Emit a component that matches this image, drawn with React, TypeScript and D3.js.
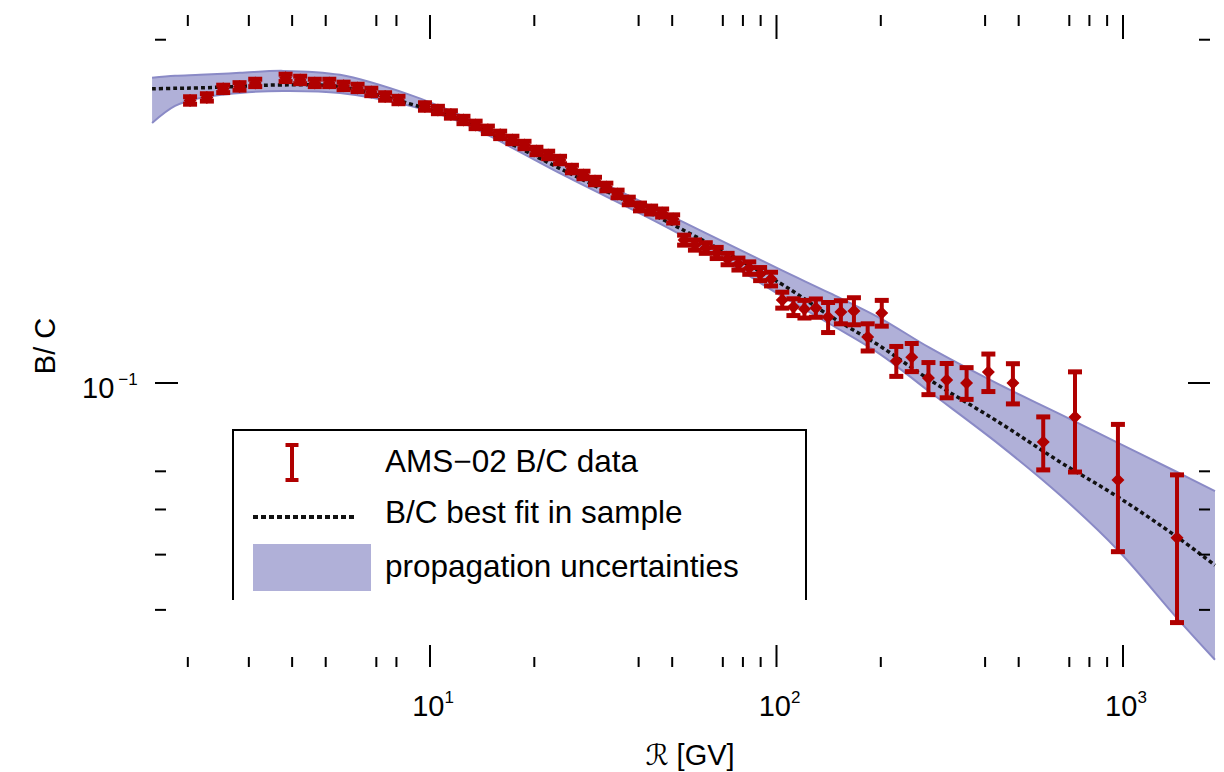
import React from 'react'
import * as d3 from 'd3'

// AMS-02 B/C data, rigidity in GV
const rigidity = [2.03, 2.27, 2.53, 2.82, 3.13, 3.83, 4.22, 4.65, 5.12, 5.63, 6.18, 6.77, 7.42, 8.11, 9.67, 10.54, 11.49, 12.49, 13.54, 14.69, 15.94, 17.29, 18.74, 20.28, 21.93, 23.73, 25.68, 27.73, 29.93, 32.28, 34.78, 37.47, 40.37, 43.47, 46.77, 50.32, 54.12, 58.16, 62.51, 67.2, 72.25, 77.65, 83.45, 89.69, 96.44, 103.9, 111.9, 120.4, 129.9, 140.9, 153.4, 167.3, 183.3, 201.3, 221.7, 245.7, 274.5, 309.9, 353.7, 408.8, 481.2, 588.6, 727, 967, 1432]
const bcRatio = [0.3130, 0.3169, 0.3280, 0.3313, 0.3360, 0.3429, 0.3401, 0.3360, 0.3360, 0.3320, 0.3293, 0.3240, 0.3181, 0.3136, 0.3055, 0.3012, 0.2958, 0.2893, 0.2836, 0.2780, 0.2724, 0.2669, 0.2615, 0.2553, 0.2512, 0.2461, 0.2373, 0.2317, 0.2261, 0.2207, 0.2146, 0.2086, 0.2036, 0.2011, 0.1987, 0.1940, 0.1781, 0.1746, 0.1725, 0.1691, 0.1650, 0.1617, 0.1591, 0.1553, 0.1522, 0.1398, 0.1359, 0.1348, 0.1354, 0.1305, 0.1332, 0.1338, 0.1204, 0.1327, 0.1093, 0.1110, 0.1020, 0.1012, 0.1000, 0.1045, 0.1000, 0.0788, 0.0872, 0.0676, 0.0535]
const bcError = [0.0047, 0.0047, 0.0049, 0.0050, 0.0050, 0.0051, 0.0051, 0.0050, 0.0050, 0.0050, 0.0049, 0.0049, 0.0048, 0.0047, 0.0046, 0.0045, 0.0044, 0.0043, 0.0043, 0.0042, 0.0041, 0.0040, 0.0039, 0.0038, 0.0038, 0.0037, 0.0036, 0.0035, 0.0034, 0.0034, 0.0033, 0.0032, 0.0032, 0.0032, 0.0032, 0.0032, 0.0036, 0.0036, 0.0037, 0.0038, 0.0038, 0.0039, 0.0040, 0.0041, 0.0042, 0.0045, 0.0046, 0.0048, 0.0050, 0.0079, 0.0062, 0.0073, 0.0066, 0.0069, 0.0066, 0.0063, 0.0066, 0.0070, 0.0064, 0.0079, 0.0081, 0.0084, 0.0174, 0.0170, 0.0155]

// best fit curve and propagation uncertainty band
const bandRigidity = [1.577, 1.837, 2.169, 2.829, 3.765, 5.5, 8.757, 12.21, 24.53, 54.43, 102.3, 142.7, 198.9, 277.3, 441.6, 658, 967.4, 1432, 1843]
const fitBC = [0.3280, 0.3287, 0.3293, 0.3313, 0.3333, 0.3307, 0.3087, 0.2893, 0.2354, 0.1848, 0.1497, 0.1311, 0.1161, 0.1012, 0.0851, 0.0727, 0.0631, 0.0537, 0.0479]
const bandUpper = [0.3429, 0.3457, 0.3471, 0.3499, 0.3527, 0.3471, 0.3201, 0.2952, 0.2412, 0.1909, 0.1582, 0.1437, 0.1300, 0.1152, 0.0992, 0.0882, 0.0785, 0.0698, 0.0646]
const bandLower = [0.2858, 0.3062, 0.3162, 0.3227, 0.3253, 0.3227, 0.3062, 0.2870, 0.2308, 0.1803, 0.1427, 0.1269, 0.1124, 0.0964, 0.0778, 0.0636, 0.0509, 0.0387, 0.0327]

// ticks
const xMajor = [10, 100, 1000]
const xMajorLabels = ['1', '2', '3']
const xMinor = [2, 3, 4, 5, 7, 8, 20, 40, 50, 70, 80, 90, 200, 400, 500, 700, 800, 900]
const yMajor = [0.1]
const yMinor = [0.04, 0.05, 0.06, 0.07, 0.4]

const legendLabels = ['AMS\u221202 B/C data', 'B/C best fit in sample', 'propagation uncertainties']

const RED = '#b00000'
const BAND = '#b0b0d8'
const BAND_EDGE = '#8a8ac6'
const FONT = '"Liberation Sans", Arial, Helvetica, sans-serif'

const frame = { left: 155, right: 1210, top: 15, bottom: 667 }

export default function App() {
  const x = d3.scaleLog().domain([1.608, 1783]).range([frame.left, frame.right])
  const y = d3.scaleLog().domain([0.03176, 0.442]).range([frame.bottom, frame.top])

  const idx = d3.range(bandRigidity.length)
  const area = d3.area<number>()
    .x(i => x(bandRigidity[i]))
    .y0(i => y(bandLower[i]))
    .y1(i => y(bandUpper[i]))
    .curve(d3.curveCatmullRom)
  const edge = (arr: number[]) => d3.line<number>()
    .x(i => x(bandRigidity[i]))
    .y(i => y(arr[i]))
    .curve(d3.curveCatmullRom)(idx) || ''

  const points = rigidity.map((r, i) => ({
    px: x(r),
    py: y(bcRatio[i]),
    top: y(bcRatio[i] + bcError[i]),
    bot: y(bcRatio[i] - bcError[i])
  }))

  return (
    <svg width={1224} height={772} style={{ position: 'absolute', left: 0, top: 0, background: '#fff' }}
      fontFamily={FONT}>
      {/* band */}
      <path d={area(idx) || ''} fill={BAND} stroke="none" />
      <path d={edge(bandUpper)} fill="none" stroke={BAND_EDGE} strokeWidth={2} />
      <path d={edge(bandLower)} fill="none" stroke={BAND_EDGE} strokeWidth={2} />

      {/* best fit */}
      <path d={edge(fitBC)} fill="none" stroke="#111" strokeWidth={3.5} strokeDasharray="4 3" />

      {/* data */}
      <g stroke={RED} fill={RED}>
        {points.map((p, i) => (
          <g key={i}>
            <line x1={p.px} x2={p.px} y1={p.top} y2={p.bot} strokeWidth={4} />
            <line x1={p.px - 7} x2={p.px + 7} y1={p.top} y2={p.top} strokeWidth={5} />
            <line x1={p.px - 7} x2={p.px + 7} y1={p.bot} y2={p.bot} strokeWidth={5} />
            <path d={`M${p.px},${p.py - 6.5}L${p.px + 6.5},${p.py}L${p.px},${p.py + 6.5}L${p.px - 6.5},${p.py}Z`} stroke="none" />
          </g>
        ))}
      </g>

      {/* ticks */}
      <g stroke="#000" strokeWidth={2}>
        {xMajor.map(v => (
          <g key={'xM' + v}>
            <line x1={x(v)} x2={x(v)} y1={frame.top} y2={frame.top + 24} />
            <line x1={x(v)} x2={x(v)} y1={frame.bottom} y2={frame.bottom - 22} />
          </g>
        ))}
        {xMinor.map(v => (
          <g key={'xm' + v}>
            <line x1={x(v)} x2={x(v)} y1={frame.top} y2={frame.top + 11} />
            <line x1={x(v)} x2={x(v)} y1={frame.bottom} y2={frame.bottom - 10} />
          </g>
        ))}
        {yMajor.map(v => (
          <g key={'yM' + v}>
            <line x1={frame.left} x2={frame.left + 23} y1={y(v)} y2={y(v)} />
            <line x1={frame.right} x2={frame.right - 22} y1={y(v)} y2={y(v)} />
          </g>
        ))}
        {yMinor.map(v => (
          <g key={'ym' + v}>
            <line x1={frame.left} x2={frame.left + 11} y1={y(v)} y2={y(v)} />
            <line x1={frame.right} x2={frame.right - 11} y1={y(v)} y2={y(v)} />
          </g>
        ))}
      </g>

      {/* tick labels */}
      {xMajor.map((v, i) => (
        <text key={'xl' + v} x={x(v) + 3} y={716} fontSize={29} textAnchor="middle">
          10<tspan dy={-13} fontSize={17}>{xMajorLabels[i]}</tspan>
        </text>
      ))}
      <text x={82} y={y(0.1) + 15} fontSize={29}>
        10<tspan dx={4} dy={-13} fontSize={17}>{'\u22121'}</tspan>
      </text>

      {/* axis titles */}
      <text transform="translate(55,346) rotate(-90)" fontSize={29} textAnchor="middle">B/ C</text>
      <text x={690} y={765} fontSize={29} textAnchor="middle">
        <tspan fontFamily='"DejaVu Sans", sans-serif'>{'\u211B'}</tspan> [GV]
      </text>

      {/* legend */}
      <path d="M233,600V430H806V600" fill="none" stroke="#000" strokeWidth={2} />
      <g stroke={RED} strokeWidth={4}>
        <line x1={292} x2={292} y1={445} y2={480} />
        <line x1={285.5} x2={298.5} y1={445} y2={445} />
        <line x1={285.5} x2={298.5} y1={480} y2={480} />
      </g>
      <line x1={253} x2={357} y1={517} y2={517} stroke="#111" strokeWidth={4} strokeDasharray="5 3" />
      <rect x={253} y={544} width={118} height={47} fill={BAND} />
      {legendLabels.map((t, i) => (
        <text key={t} x={385} y={[472, 523, 577][i]} fontSize={31.5}>{t}</text>
      ))}
    </svg>
  )
}
